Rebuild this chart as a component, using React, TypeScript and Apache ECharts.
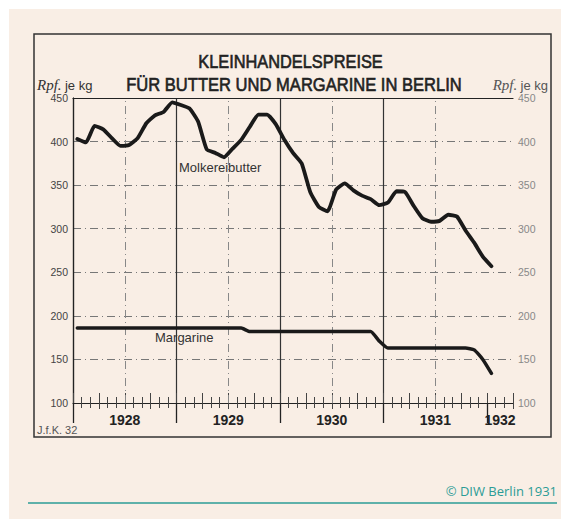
import React, { useEffect, useRef } from "react";
import * as echarts from "echarts";

// Monthly retail prices, Rpf. per kg, Jan 1928 .. Jan 1932
const butter = [
  403, 399, 418, 414, 404, 395, 396, 404, 421, 430, 434, 445,
  442, 438, 423, 391, 387, 382, 392, 402, 417, 431, 431, 420,
  402, 387, 375, 342, 325, 320, 345, 352, 344, 338, 334, 327,
  330, 343, 342, 326, 312, 308, 309, 316, 314, 298, 284, 268,
  257,
];
const margarine = [
  186, 186, 186, 186, 186, 186, 186, 186, 186, 186, 186, 186,
  186, 186, 186, 186, 186, 186, 186, 186, 182, 182, 182, 182,
  182, 182, 182, 182, 182, 182, 182, 182, 182, 182, 182, 171,
  163, 163, 163, 163, 163, 163, 163, 163, 163, 163, 161, 150,
  134,
];
const yearLabels = ["1928", "1929", "1930", "1931", "1932"];
const yearLabelPos = [6, 18, 30, 42, 49.5];
const yearStarts = [0, 12, 24, 36, 48];
const midYears = [6, 18, 30, 42];
const monthCount = 51;
const yMin = 100;
const yMax = 450;
const yStep = 50;

const INK = "#222";
const dashDot = [8, 4, 1, 4];

export default function App() {
  const ref = useRef<HTMLDivElement>(null);
  useEffect(() => {
    if (!ref.current) return;
    const chart = echarts.init(ref.current, null, { renderer: "svg" });
    const toData = (arr: number[]) => arr.map((v, i) => [i + 0.5, v]);
    const baseX = {
      type: "value",
      min: 0,
      max: monthCount,
      position: "bottom",
      axisLabel: { show: false },
      splitLine: { show: false },
      axisLine: { show: false },
    };
    const option: any = {
      animation: false,
      grid: { left: 73, right: 57, top: 98, bottom: 116, containLabel: false, outerBoundsMode: "none" },
      xAxis: [
        {
          ...baseX,
          interval: 1,
          axisLine: { show: true, lineStyle: { color: INK, width: 1.2 } },
          axisTick: { show: true, inside: false, length: 5, lineStyle: { color: "#444", width: 1 } },
        },
        {
          ...baseX,
          interval: 1,
          axisTick: { show: true, inside: true, length: 6, lineStyle: { color: "#444", width: 1 } },
        },
        {
          ...baseX,
          interval: 3,
          axisTick: { show: true, inside: false, length: 6, lineStyle: { color: "#444", width: 1 } },
        },
        {
          ...baseX,
          interval: 3,
          axisTick: { show: true, inside: true, length: 10, lineStyle: { color: "#444", width: 1 } },
        },
        {
          ...baseX,
          interval: 12,
          axisTick: {
            show: true,
            inside: false,
            length: 20,
            customValues: yearStarts,
            lineStyle: { color: INK, width: 1.3 },
          },
          axisLabel: {
            show: true,
            customValues: yearLabelPos,
            formatter: (v: number) => yearLabels[yearLabelPos.indexOf(v)] ?? "",
            fontFamily: "Liberation Sans, Arial, sans-serif",
            fontWeight: "bold",
            fontSize: 14,
            color: INK,
            margin: 10,
          },
          splitLine: {
            show: true,
            showMinLine: false,
            showMaxLine: false,
            lineStyle: { color: "#333", width: 1.2, type: "solid" },
          },
        },
        {
          ...baseX,
          position: "top",
          axisLine: { show: true, lineStyle: { color: INK, width: 1.2 } },
          axisTick: { show: false },
        },
      ],
      yAxis: [
        {
          type: "value",
          min: yMin,
          max: yMax,
          interval: yStep,
          position: "left",
          axisLine: { show: true, lineStyle: { color: INK, width: 1.2 } },
          axisTick: { show: false },
          axisLabel: {
            color: "#444",
            fontSize: 10.5,
            margin: 5,
            fontFamily: "Liberation Sans, Arial, sans-serif",
          },
          splitLine: {
            show: true,
            showMinLine: false,
            showMaxLine: false,
            lineStyle: { color: "#777", width: 1, type: dashDot },
          },
        },
        {
          type: "value",
          min: yMin,
          max: yMax,
          interval: yStep,
          position: "right",
          axisLine: { show: true, lineStyle: { color: INK, width: 1.2 } },
          axisTick: { show: false },
          axisLabel: {
            color: "#888",
            fontSize: 10.5,
            margin: 5,
            fontFamily: "Liberation Sans, Arial, sans-serif",
          },
          splitLine: { show: false },
        },
      ],
      series: [
        {
          name: "Molkereibutter",
          type: "line",
          xAxisIndex: 0,
          yAxisIndex: 0,
          data: toData(butter),
          symbol: "none",
          smooth: 0.15,
          lineStyle: { color: "#1a1a1a", width: 3.8, join: "round", cap: "round" },
          z: 5,
        },
        {
          name: "Margarine",
          type: "line",
          xAxisIndex: 0,
          yAxisIndex: 0,
          data: toData(margarine),
          symbol: "none",
          smooth: 0.15,
          lineStyle: { color: "#1a1a1a", width: 3.5, join: "round", cap: "round" },
          z: 5,
          markLine: {
            silent: true,
            symbol: ["none", "none"],
            label: { show: false },
            lineStyle: { color: "#888", width: 1, type: dashDot },
            data: midYears.map((m) => ({ xAxis: m })),
            z: 1,
          },
        },
      ],
      graphic: [
        {
          type: "rect",
          z: -10,
          shape: { x: 9, y: 9, width: 552, height: 510 },
          style: { fill: "#f9eee5" },
          silent: true,
        },
        {
          type: "rect",
          shape: { x: 34, y: 34, width: 517, height: 403 },
          style: { fill: "none", stroke: "#333", lineWidth: 1.5 },
          silent: true,
        },
        {
          type: "text",
          x: 290.5,
          y: 62,
          scaleX: 0.91,
          style: {
            text: "KLEINHANDELSPREISE",
            font: "18px 'Liberation Sans', Arial, sans-serif",
            fill: INK,
            stroke: INK,
            lineWidth: 0.6,
            align: "center",
            verticalAlign: "middle",
          },
        },
        {
          type: "text",
          x: 294,
          y: 85,
          scaleX: 0.92,
          style: {
            text: "FÜR BUTTER UND MARGARINE IN BERLIN",
            font: "18px 'Liberation Sans', Arial, sans-serif",
            fill: INK,
            stroke: INK,
            lineWidth: 0.6,
            align: "center",
            verticalAlign: "middle",
          },
        },
        {
          type: "text",
          x: 37,
          y: 85,
          style: {
            text: "{a|Rpf.} {b|je kg}",
            rich: {
              a: { font: "italic 15px 'Liberation Serif', serif", fill: "#333" },
              b: { font: "13px 'Liberation Sans', Arial, sans-serif", fill: "#333" },
            },
            align: "left",
            verticalAlign: "middle",
          },
        },
        {
          type: "text",
          x: 548,
          y: 85,
          style: {
            text: "{a|Rpf.} {b|je kg}",
            rich: {
              a: { font: "italic 15px 'Liberation Serif', serif", fill: "#555" },
              b: { font: "13px 'Liberation Sans', Arial, sans-serif", fill: "#555" },
            },
            align: "right",
            verticalAlign: "middle",
          },
        },
        {
          type: "text",
          x: 179,
          y: 167,
          style: {
            text: "Molkereibutter",
            font: "13px 'Liberation Sans', Arial, sans-serif",
            fill: "#333",
            align: "left",
            verticalAlign: "middle",
          },
        },
        {
          type: "text",
          x: 155,
          y: 337,
          style: {
            text: "Margarine",
            font: "13px 'Liberation Sans', Arial, sans-serif",
            fill: "#333",
            align: "left",
            verticalAlign: "middle",
          },
        },
        {
          type: "text",
          x: 37,
          y: 430,
          style: {
            text: "J.f.K. 32",
            font: "11px 'Liberation Sans', Arial, sans-serif",
            fill: "#555",
            align: "left",
            verticalAlign: "middle",
          },
        },
        {
          type: "text",
          x: 557,
          y: 491,
          style: {
            text: "© DIW Berlin 1931",
            font: "13px 'Open Sans', sans-serif",
            fill: "#2b9c96",
            align: "right",
            verticalAlign: "middle",
          },
        },
        {
          type: "line",
          shape: { x1: 28, y1: 503, x2: 557, y2: 503 },
          style: { stroke: "#2b9c96", lineWidth: 1.5 },
          silent: true,
        },
      ],
    };
    chart.setOption(option);
    return () => chart.dispose();
  }, []);
  return (
    <div
      ref={ref}
      style={{ position: "fixed", left: 0, top: 0, width: 570, height: 519, background: "#ffffff" }}
    />
  );
}
